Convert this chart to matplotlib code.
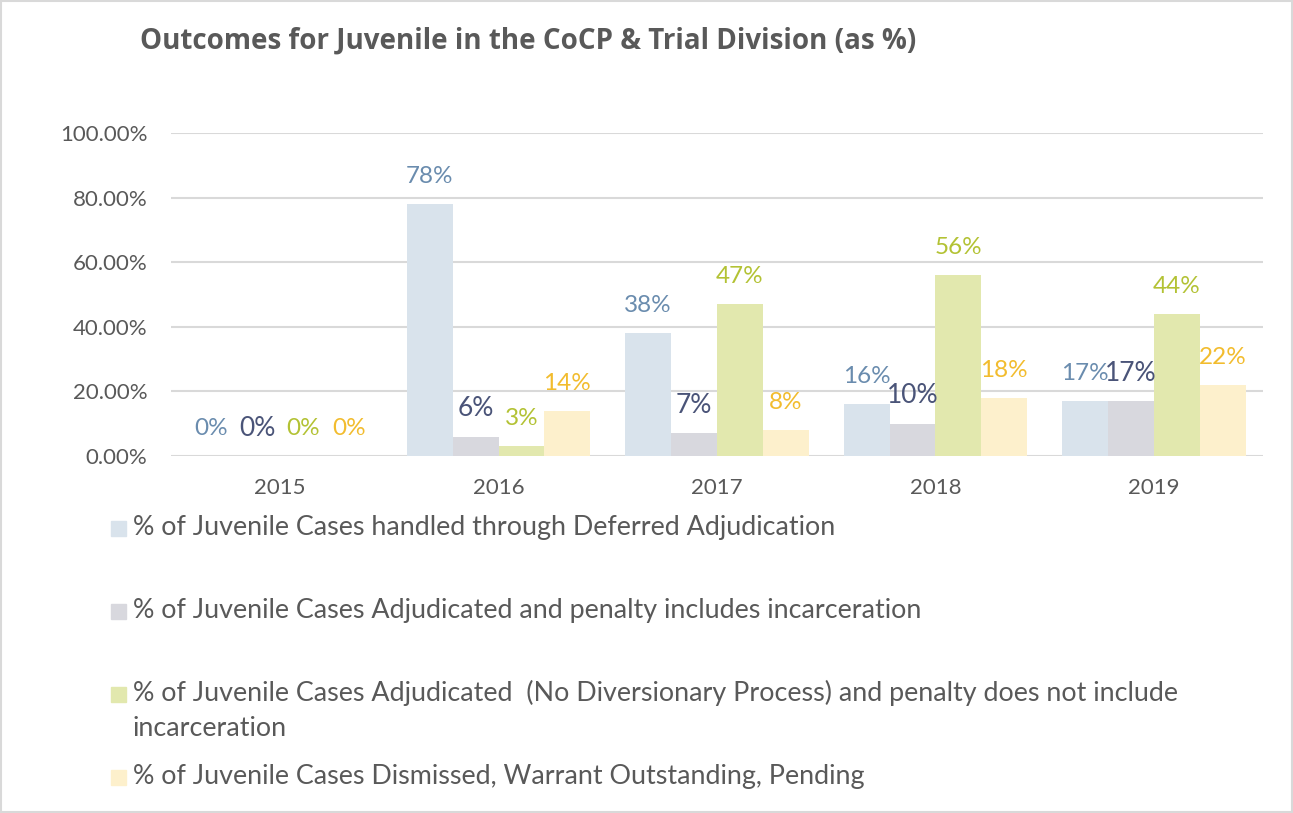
import matplotlib
matplotlib.use('Agg')
import matplotlib.pyplot as plt
from matplotlib.patches import Rectangle
import numpy as np

plt.rcParams['font.family'] = ['Lato', 'DejaVu Sans']

years = ['2015', '2016', '2017', '2018', '2019']
deferred = [0.00, 0.78, 0.38, 0.16, 0.17]
incarcerated = [0.00, 0.06, 0.07, 0.10, 0.17]
no_incarceration = [0.00, 0.03, 0.47, 0.56, 0.44]
dismissed = [0.00, 0.14, 0.08, 0.18, 0.22]

series_names = [
    '% of Juvenile Cases handled through Deferred Adjudication',
    '% of Juvenile Cases Adjudicated and penalty includes incarceration',
    '% of Juvenile Cases Adjudicated  (No Diversionary Process) and penalty does not include\nincarceration',
    '% of Juvenile Cases Dismissed, Warrant Outstanding, Pending',
]
y_ticks = [0, 0.2, 0.4, 0.6, 0.8, 1.0]

bar_colors = ['#D9E3EC', '#D8D8DE', '#E2E8AE', '#FDF0CC']
label_colors = ['#6A8CAE', '#4A5478', '#B3C234', '#F2BC2E']
label_sizes = [17.5, 19, 17.5, 17.5]
text_gray = '#595959'

W, H = 1293, 813
fig = plt.figure(figsize=(W / 100, H / 100), dpi=100)
ax = fig.add_axes([171 / W, 1 - 456 / H, 1092 / W, 323 / H])

x = np.arange(len(years))
width = 0.21
all_series = [deferred, incarcerated, no_incarceration, dismissed]
for i, vals in enumerate(all_series):
    pos = x + (i - 1.5) * width
    ax.bar(pos, vals, width, color=bar_colors[i], zorder=2)
    for px, v in zip(pos, vals):
        ax.annotate('{:.0f}%'.format(v * 100), (px, v), xytext=(0, 20),
                    textcoords='offset points', ha='center', va='center',
                    fontsize=label_sizes[i], color=label_colors[i])

ax.set_xlim(-0.5, len(years) - 0.5)
ax.set_ylim(0, 1.0)
ax.set_xticks(x)
ax.set_xticklabels(years)
ax.set_yticks(y_ticks)
ax.set_yticklabels(['{:.2f}%'.format(t * 100) for t in y_ticks])
ax.tick_params(axis='both', length=0, labelsize=16, colors=text_gray)
ax.tick_params(axis='x', pad=16)
ax.tick_params(axis='y', pad=17)
ax.grid(axis='y', color='#D9D9D9', linewidth=1.5, zorder=0)
for s in ax.spines.values():
    s.set_visible(False)

fig.text(140 / W, 1 - 41 / H, 'Outcomes for Juvenile in the CoCP & Trial Division (as %)',
         fontsize=20, fontweight='bold', color=text_gray, ha='left', va='center',
         family=['Open Sans', 'DejaVu Sans'])

# legend drawn by hand to keep Excel's uneven spacing
legend_y = [527, 610, 693, 776]
line_gap = 35
for i, name in enumerate(series_names):
    yc = 1 - legend_y[i] / H
    fig.patches.append(Rectangle((111 / W, yc - 9 / H), 15 / W, 15 / H,
                                 transform=fig.transFigure, color=bar_colors[i]))
    for k, line in enumerate(name.split('\n')):
        fig.text(133 / W, yc - k * line_gap / H, line, fontsize=19.4, color=text_gray,
                 ha='left', va='center')

fig.patches.append(Rectangle((0.001, 0.001), 0.998, 0.998, transform=fig.transFigure,
                             fill=False, edgecolor='#D9D9D9', linewidth=1.5))

fig.savefig('out.png', dpi=100)
